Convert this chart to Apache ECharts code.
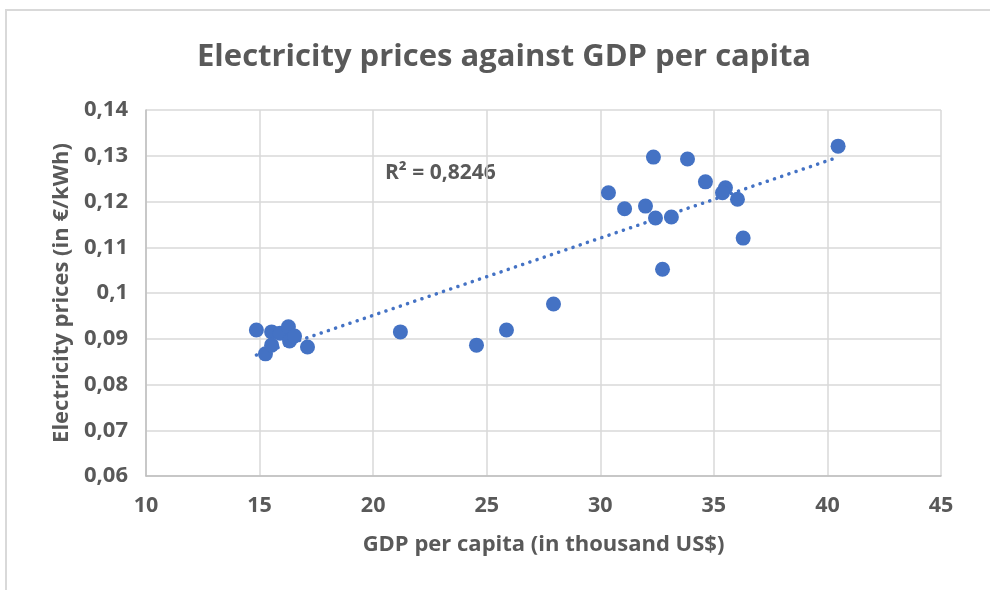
<!DOCTYPE html>
<html>
<head>
<meta charset="utf-8">
<script src="https://cdn.jsdelivr.net/npm/echarts@6/dist/echarts.min.js"></script>
<style>
  html, body { margin: 0; padding: 0; background: #fff; }
  #chart { width: 990px; height: 590px; }
</style>
</head>
<body>
<div id="chart"></div>
<script>
// GDP per capita (thousand US$) and electricity price (€/kWh) per country
const gdpPerCapita = [14.86, 15.53, 15.26, 15.53, 15.90, 16.27, 16.32, 16.54, 17.11,
  21.20, 24.55, 25.87, 27.94,
  30.36, 31.07, 31.99, 32.34, 32.43, 33.13, 32.74, 33.84, 34.63, 35.51, 35.38, 36.04, 36.29, 40.47];
const electricityPrice = [0.0919, 0.0915, 0.0867, 0.0886, 0.0912, 0.0926, 0.0895, 0.0906, 0.0882,
  0.0915, 0.0886, 0.0919, 0.0976,
  0.1219, 0.1184, 0.1190, 0.1297, 0.1164, 0.1166, 0.1052, 0.1293, 0.1243, 0.1230, 0.1219, 0.1205, 0.1120, 0.1321];
const xTicks = [10, 15, 20, 25, 30, 35, 40, 45];
const yTicks = [0.06, 0.07, 0.08, 0.09, 0.10, 0.11, 0.12, 0.13, 0.14];
const rSquaredLabel = 'R² = 0,8246';

const points = gdpPerCapita.map((x, i) => [x, electricityPrice[i]]);

// Least-squares linear trend over the observed GDP range
const n = points.length;
const mx = gdpPerCapita.reduce((a, b) => a + b, 0) / n;
const my = electricityPrice.reduce((a, b) => a + b, 0) / n;
let sxy = 0, sxx = 0;
points.forEach(([x, y]) => { sxy += (x - mx) * (y - my); sxx += (x - mx) * (x - mx); });
const slope = sxy / sxx;
const intercept = my - slope * mx;
const xMin = Math.min(...gdpPerCapita), xMax = Math.max(...gdpPerCapita);
const trend = [[xMin, intercept + slope * xMin], [xMax, intercept + slope * xMax]];

const FONT = 'Open Sans';
const TEXT = '#595959';
const BLUE = '#4472C4';

const chart = echarts.init(document.getElementById('chart'), null, { renderer: 'canvas' });
chart.setOption({
  animation: false,
  backgroundColor: '#ffffff',
  title: {
    text: 'Electricity prices against GDP per capita',
    left: 192,
    top: 37,
    textStyle: { fontFamily: FONT, fontSize: 31, fontWeight: 'bold', color: TEXT }
  },
  graphic: [
    {
      type: 'rect',
      shape: { x: 6, y: 10, width: 1100, height: 700 },
      style: { fill: 'none', stroke: '#D9D9D9', lineWidth: 2 },
      silent: true
    },
    {
      type: 'text',
      left: 385,
      top: 163,
      style: { text: rSquaredLabel, fontFamily: FONT, fontSize: 21, fontWeight: 'bold', fill: TEXT }
    }
  ],
  grid: { left: 146, right: 49, top: 110, bottom: 114, containLabel: false },
  xAxis: {
    type: 'value',
    min: xTicks[0],
    max: xTicks[xTicks.length - 1],
    interval: xTicks[1] - xTicks[0],
    name: 'GDP per capita (in thousand US$)',
    nameLocation: 'middle',
    nameGap: 58,
    nameTextStyle: { fontFamily: FONT, fontSize: 22, fontWeight: 'bold', color: TEXT },
    axisLine: { show: true, lineStyle: { color: '#BFBFBF', width: 1.5 } },
    axisTick: { show: false },
    axisLabel: { fontFamily: FONT, fontSize: 21.5, fontWeight: 'bold', color: TEXT, margin: 19 },
    splitLine: { show: true, lineStyle: { color: '#D9D9D9', width: 1.5 } }
  },
  yAxis: {
    type: 'value',
    min: yTicks[0],
    max: yTicks[yTicks.length - 1],
    interval: 0.01,
    name: 'Electricity prices (in €/kWh)',
    nameLocation: 'middle',
    nameRotate: 90,
    nameGap: 71,
    nameTextStyle: { fontFamily: FONT, fontSize: 22, fontWeight: 'bold', color: TEXT },
    axisLine: { show: true, lineStyle: { color: '#BFBFBF', width: 1.5 } },
    axisTick: { show: false },
    axisLabel: {
      fontFamily: FONT, fontSize: 22, fontWeight: 'bold', color: TEXT, margin: 18,
      formatter: v => String(+v.toFixed(2)).replace('.', ',')
    },
    splitLine: { show: true, lineStyle: { color: '#D9D9D9', width: 1.5 } }
  },
  series: [
    {
      name: 'Trend',
      type: 'line',
      data: trend,
      showSymbol: false,
      silent: true,
      z: 1,
      lineStyle: { color: BLUE, width: 3.5, type: [0.1, 7.5], cap: 'round' }
    },
    {
      name: 'Countries',
      type: 'scatter',
      data: points,
      symbol: 'circle',
      symbolSize: 15,
      z: 2,
      itemStyle: { color: BLUE, opacity: 1 }
    }
  ]
});
</script>
</body>
</html>
